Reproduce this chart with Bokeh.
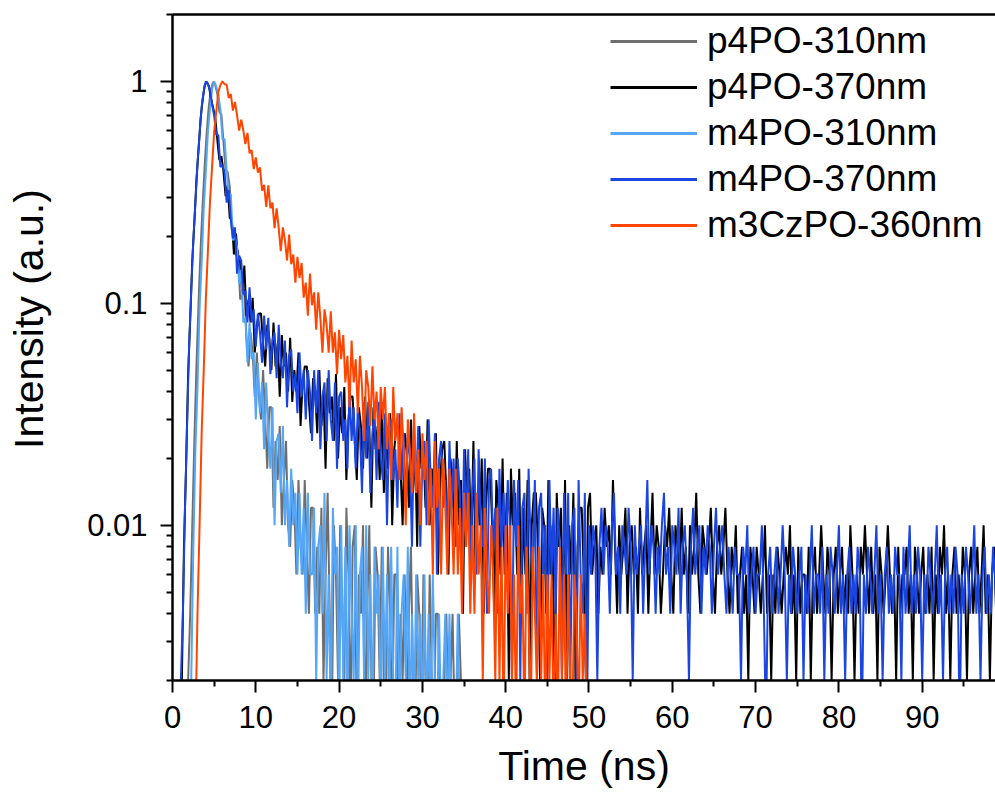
import numpy as np
from bokeh.plotting import figure
from bokeh.models import (Range1d, FixedTicker, LinearAxis, Legend, LegendItem,
                          ColumnDataSource)
from bokeh.embed import file_html
from bokeh.resources import INLINE

# ---------------- data (photon counts per 0.25 ns channel, peak = 500) ----------------
DT = 0.25            # ns per channel
PEAK_COUNTS = 500    # counts at the maximum, used for normalisation
FLOOR = 0.0012       # zero counts are drawn below the axis (off the log scale)

labels = ["p4PO-310nm", "p4PO-370nm", "m4PO-310nm", "m4PO-370nm", "m3CzPO-360nm"]
colors = ["#6e6e6e", "#000000", "#55a6f6", "#1a45e0", "#ff4500"]
t_start = [1.875, 0.875, 2.0, 0.75, 2.75]   # first channel time of each trace (ns)

p4po_310 = [1, 2, 5, 12, 26, 50, 88, 140, 212, 300, 392, 460, 497, 482, 441,
            365, 353, 265, 200, 195, 167, 107, 109, 82, 87, 52, 54, 58, 35, 26, 37, 30, 19,
            30, 19, 15, 25, 15, 9, 17, 17, 6, 12, 8, 14, 5, 8, 12, 5, 4, 8, 6, 3, 8, 4, 3, 8,
            4, 2, 6, 6, 2, 4, 2, 6, 1, 3, 7, 2, 0, 5, 3, 1, 5, 2, 1, 6, 3, 0, 4, 5, 0, 3, 2,
            5, 0, 2, 5, 1, 0, 4, 3, 1, 4, 1, 1, 4, 2, 0, 3, 3, 0, 2, 1, 3, 0, 2, 4, 1, 0, 3,
            2, 0, 3, 1, 0, 3, 1, 0, 2, 2, 0, 1, 1, 2, 0, 1, 2, 0, 0, 2, 1, 0, 1, 0, 0, 1, 0,
            1, 0, 0, 1, 0, 0, 1, 0]

p4po_370 = [1, 1, 4, 9, 24, 42, 78, 116, 180, 246, 340, 415, 482, 497, 474, 418, 379,
            344, 274, 221, 230, 195, 152, 170, 121, 120, 83, 103, 78, 78, 56, 74, 44, 52, 41,
            53, 30, 40, 45, 45, 33,
            26, 40, 35, 25, 41, 26, 33, 19, 36, 26, 30, 20, 35, 18, 25, 20, 30, 14, 22, 26,
            26, 18, 13, 23, 20, 13, 25, 14, 20, 9, 23, 16, 19, 12, 24, 10, 17, 13, 21, 8, 15,
            19, 19, 12, 8, 17, 14, 9, 19, 10, 14, 6, 17, 11, 14, 8, 18, 7, 12, 9, 16, 5, 11,
            14, 14, 9, 5, 13, 11, 6, 15, 7, 11, 4, 14, 9, 11, 6, 15, 5, 9, 7, 13, 3, 8, 11, 12,
            7, 3, 10, 8, 4, 12, 5, 8, 2, 11, 6, 9, 4, 12, 3, 7, 5, 10, 2, 6, 9, 9, 5, 2, 8, 6,
            3, 10, 3, 7, 1, 9, 5, 7, 3, 9, 2, 6, 3, 8, 1, 5, 7, 7, 4, 1, 6, 5, 2, 8, 3, 5, 0,
            7, 4, 6, 2, 8, 1, 5, 3, 7, 1, 4, 6, 6, 3, 1, 6,
            7, 3, 4, 5, 2, 4, 3, 6, 4, 5, 3, 8, 4, 2, 5, 3, 4, 6, 2, 4, 5, 3, 4, 2, 6, 3, 4,
            5, 2, 4, 7, 3, 5, 4, 2, 3, 5, 4, 6, 3, 2, 5, 4, 3, 6, 3, 4, 2, 5, 3, 4, 7, 3, 2,
            5, 4, 3, 4, 6, 3, 2, 4, 5, 3, 4, 6, 3, 2,
            4, 3, 5, 2, 3, 4, 2, 3, 1, 4, 3, 2, 4, 3, 2, 3, 5, 2, 3, 1, 3, 2, 4, 3, 2, 3, 4,
            3, 5, 2, 3, 1, 4, 2, 3, 3, 2, 4, 1, 3, 4, 2, 3, 5, 3, 2, 4, 3, 1, 3, 4, 2, 3, 4,
            2, 3, 2, 5, 3, 1, 3, 2, 4, 3, 5, 3, 2, 4, 2, 3, 1, 4, 3, 2, 3, 5, 3, 2, 3, 1, 4,
            2, 3, 3, 4, 2, 3, 1, 4, 3, 2, 3, 4, 2, 3, 2, 4, 1, 3, 2, 4, 3, 5, 2, 3, 1, 3, 4,
            2, 3, 2, 4, 3, 1, 3, 4, 2, 3, 4, 2, 3, 5, 2, 3, 1, 3, 4, 2]

m4po_310 = [0, 1, 4, 11, 21, 47, 77, 134, 196, 295, 377, 461, 500, 474, 436,
            375, 274, 275, 199, 156, 155, 96, 101, 89, 61, 71, 41, 43, 27, 41, 28, 30, 15, 27,
            16, 22, 11, 22, 13, 9, 17, 5, 12, 13, 7, 14, 5, 8, 4, 9, 5, 7, 3, 7, 3, 6, 2, 7,
            3, 3, 6, 1, 4, 5, 2, 7, 1, 3, 0, 6, 3, 4, 0, 5, 1, 4, 0, 5, 2, 1, 5, 0, 3, 4, 1,
            5, 1, 3, 0, 4, 2, 3, 0, 4, 1, 3, 0, 4, 1, 0, 4, 0, 2, 3, 1, 4, 0, 2, 0, 3, 1, 2,
            0, 3, 0, 2, 0, 3, 1, 0, 2, 0, 1, 2, 0, 2, 0, 1, 0, 2, 0, 1, 0, 1, 0, 0, 1, 0, 1,
            0, 0, 1, 0, 0, 1, 0, 0, 0, 1, 0, 0]

m4po_370 = [0, 1, 2, 6, 14, 33, 57, 97, 141, 214, 287, 384, 452, 500, 486, 455, 396, 350,
            288, 286, 206, 209, 195, 142, 162, 119, 98, 110, 68, 82, 78, 55, 57, 41, 59, 41,
            47, 32, 45, 37, 27, 44,
            31, 43, 24, 34, 37, 23, 40, 27, 23, 34, 17, 29, 31, 20, 24, 16, 30, 19, 25, 15,
            25, 20, 12, 25, 16, 25, 11, 19, 22, 12, 25, 15,
            12, 22, 9, 19, 20, 12, 15, 9, 21, 12, 17, 9, 17, 13, 7, 18, 10, 18, 7, 13,
            16, 8, 18, 10, 8, 16, 5, 13, 15, 8, 11, 6, 16, 8, 13, 6, 13, 10, 4, 14,
            7, 14, 4, 10, 12, 5, 15, 8, 6, 13, 3, 10, 12, 6, 8, 4, 12, 6, 10, 4,
            10, 7, 3, 11, 5, 11, 3, 7, 10, 3, 11, 5, 4, 10, 2, 8, 9, 4, 6, 2,
            9, 4, 7, 3, 8, 5, 1, 8, 4, 8, 1, 6, 7, 2, 9, 4, 3, 8, 1, 6,
            7, 3, 5, 1, 8, 3, 6, 2, 6, 4, 1, 7, 3, 7, 1, 5, 6, 1, 8, 3, 2, 7, 0, 5,
            3, 5, 4, 1, 4, 6, 3, 5, 4, 2, 5, 7, 3, 4, 2, 5, 4, 3, 6, 4,
            1, 5, 3, 4, 5, 2, 4, 8, 3, 5, 4, 2, 4, 3, 5, 7, 3, 4, 2, 5,
            4, 3, 6, 2, 4, 5, 3, 1, 4, 6, 3, 4, 5, 2, 4, 3, 5, 4, 2, 4, 6, 3, 4, 5, 3, 2, 4, 3,
            2, 4, 3, 3, 1, 4, 3, 5, 2, 3, 4, 2, 3, 3, 5, 2, 0, 3, 4, 2,
            3, 4, 2, 3, 5, 3, 1, 3, 2, 4, 3, 2, 3, 4, 1, 3, 2, 3, 5, 2,
            3, 3, 2, 4, 1, 3, 2, 4, 3, 2, 3, 5, 2, 3, 1, 3, 4, 2, 3, 2,
            4, 3, 0, 3, 2, 4, 3, 2, 3, 5, 2, 3, 1, 3, 4, 2, 3, 2, 4, 3,
            3, 1, 4, 2, 3, 5, 2, 3, 2, 4, 3, 1, 3, 2, 4, 3, 2, 3, 5, 2,
            3, 1, 3, 4, 2, 3, 2, 4, 3, 0, 3, 2, 4, 3, 2, 3, 5, 2, 3, 1,
            3, 4, 2, 3, 2, 4, 3, 2]

m3czpo_360 = [0, 2, 5, 13, 25, 52, 86, 143, 206, 296, 364, 446, 481, 500,
              485, 483, 421, 438, 369, 404, 351, 300, 336, 301, 261, 293, 237, 245, 201, 227,
              194, 205, 161, 171, 136, 170, 134, 142, 109, 134, 109, 86, 110, 96, 78, 102, 75,
              83, 62, 81, 65, 76, 53, 62, 44, 68, 49, 56, 38, 56, 43, 30, 47, 40, 30, 46, 30,
              37, 24, 38, 28, 36, 22, 29, 17, 34, 22, 28, 16, 29, 21, 12, 25, 21, 14, 26, 15,
              20, 11, 21, 15, 21, 11, 16, 8, 21, 12, 16, 8, 17, 11, 5, 15, 11, 7, 16, 7, 11, 5,
              13, 8, 12, 5, 9, 3, 12, 6, 9, 3, 10, 6, 3, 9, 6, 3, 9, 3, 6, 2, 7, 4, 7, 2, 5, 2,
              7, 3, 5, 1, 6, 3, 2, 5, 3, 1, 6, 1, 4, 0, 5, 2, 5, 1, 3, 0, 5, 2, 3, 0, 4, 2, 0,
              4, 2, 1, 4, 1, 3, 0, 3, 1, 3, 0, 2, 0, 4, 1, 3, 0, 3, 1, 0, 3, 2, 0, 3, 1, 2, 0]

series = [p4po_310, p4po_370, m4po_310, m4po_370, m3czpo_360]

x_ticks = list(range(0, 100, 10))
y_ticks = [0.01, 0.1, 1]
y_tick_labels = ["0.01", "0.1", "1"]
x_title = "Time (ns)"
y_title = "Intensity (a.u.)"

# ---------------- figure ----------------
FONT = "Liberation Sans"
p = figure(width=995, height=800, output_backend="svg", toolbar_location=None,
           y_axis_type="log", x_range=Range1d(0, 98.8), y_range=Range1d(0.002, 2),
           min_border_left=172, min_border_right=0, min_border_top=14,
           min_border_bottom=120)
p.outline_line_color = None
p.background_fill_color = "white"
p.border_fill_color = "white"
p.xgrid.visible = False
p.ygrid.visible = False

for t0, counts, col in zip(t_start, series, colors):
    c = np.asarray(counts, dtype=float)
    t = t0 + DT * np.arange(len(c))
    y = np.where(c > 0, c / PEAK_COUNTS, FLOOR)
    p.line(t, y, line_color=col, line_width=2.0)

# legend glyphs (thicker, as in the reference legend); NaN data draws nothing in the plot
items = []
for lab, col in zip(labels, colors):
    src = ColumnDataSource(data=dict(x=[np.nan, np.nan], y=[np.nan, np.nan]))
    r = p.line("x", "y", source=src, line_color=col, line_width=3)
    items.append(LegendItem(label=lab, renderers=[r]))

legend = Legend(items=items, location=(438, 432), padding=0, margin=0, spacing=0,
                label_height=46, glyph_height=46, glyph_width=87, label_standoff=10,
                label_text_font=FONT, label_text_font_size="37px",
                label_text_color="black", background_fill_alpha=0,
                border_line_color=None)
p.add_layout(legend)

xa = p.xaxis[0]
ya = p.yaxis[0]
xa.ticker = FixedTicker(ticks=x_ticks, minor_ticks=[v + 5 for v in x_ticks])
minor_y = [k * 10.0 ** e for e in (-3, -2, -1, 0) for k in range(2, 10)]
ya.ticker = FixedTicker(ticks=y_ticks, minor_ticks=minor_y)
ya.major_label_overrides = {v: s for v, s in zip(y_ticks, y_tick_labels)}

for ax in (xa, ya):
    ax.axis_line_width = 2.5
    ax.axis_line_color = "black"
    ax.major_tick_line_width = 2
    ax.minor_tick_line_width = 2
    ax.major_tick_line_color = "black"
    ax.minor_tick_line_color = "black"
    ax.major_tick_out = 12
    ax.major_tick_in = 0
    ax.minor_tick_out = 6
    ax.minor_tick_in = 0
    ax.major_label_text_font = FONT
    ax.major_label_text_font_size = "31px"
    ax.major_label_text_color = "black"
    ax.axis_label_text_font = FONT
    ax.axis_label_text_font_size = "41px"
    ax.axis_label_text_font_style = "normal"
    ax.axis_label_text_color = "black"

xa.major_label_standoff = 13
ya.major_label_standoff = 13

xa.axis_label = x_title
xa.axis_label_standoff = 12
# the reference's y title sits ~30 px above the frame's middle: leading no-break
# spaces shift the centred text upwards
ya.axis_label = "\u00a0" * 5 + y_title
ya.axis_label_standoff = 32

# top frame line
top = LinearAxis(ticker=FixedTicker(ticks=[]), major_label_text_font_size="0px",
                 major_tick_out=0, major_tick_in=0, minor_tick_out=0, minor_tick_in=0,
                 major_label_standoff=0, axis_line_width=2.5, axis_line_color="black")
p.add_layout(top, "above")

open("out.html", "w").write(file_html(p, INLINE))
